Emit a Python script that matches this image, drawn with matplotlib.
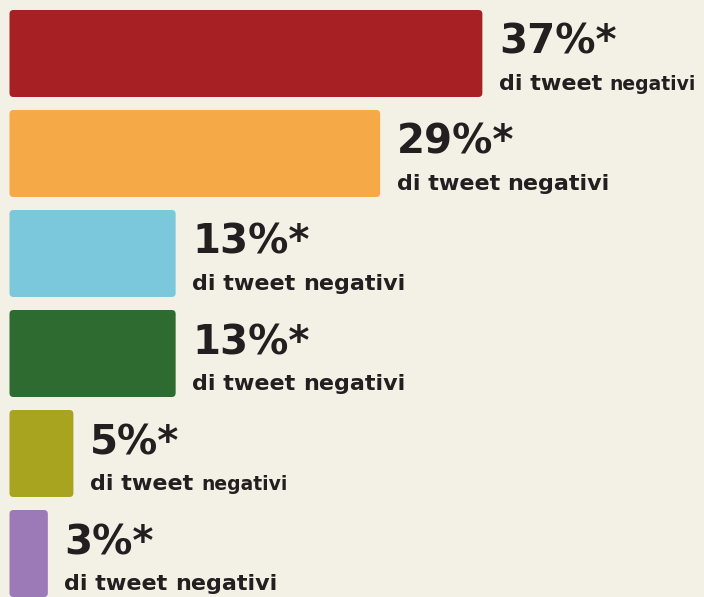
import matplotlib
matplotlib.use("Agg")
import matplotlib.pyplot as plt
from matplotlib.patches import FancyBboxPatch

values = [37, 29, 13, 13, 5, 3]
labels = ["37%*", "29%*", "13%*", "13%*", "5%*", "3%*"]
sub_main = ["di tweet ", "di tweet ", "di tweet ", "di tweet ", "di tweet ", "di tweet "]
sub_tail = ["negativi"] * 6
small_tail = [True, False, False, False, True, False]
colors = ["#A62024", "#F5A947", "#7BC8DC", "#2E6B30", "#A9A41F", "#9C7AB7"]

BG = "#F3F0E5"
TXT = "#231F20"
W, H = 704, 597
pxu = 12.78  # pixels per percentage point

fig = plt.figure(figsize=(W / 100, H / 100), dpi=100, facecolor=BG)
ax = fig.add_axes([0, 0, 1, 1])
ax.set_facecolor(BG)
ax.set_xlim(-9.5 / pxu, (W - 9.5) / pxu)
ax.set_ylim((H - 53.5) / 100, -53.5 / 100)
ax.axis("off")

ypos = list(range(len(values)))
bars = ax.barh(ypos, values, height=0.87, color=colors)
for rect, c in zip(bars, colors):
    x, y = rect.get_x(), rect.get_y()
    w, h = rect.get_width(), rect.get_height()
    rect.set_visible(False)
    r = 4 / pxu
    p = FancyBboxPatch((x, y), w, h, boxstyle=f"round,pad=0,rounding_size={r}",
                       mutation_aspect=pxu / 100, facecolor=c, edgecolor="none")
    ax.add_patch(p)

fam = "DejaVu Sans"
fig.canvas.draw()
renderer = fig.canvas.get_renderer()
inv = ax.transData.inverted()
for i, (v, lab) in enumerate(zip(values, labels)):
    xl = v + 16.5 / pxu
    top = i - 0.435
    ax.text(xl, top + 0.44, lab, fontsize=29, fontweight="bold", color=TXT,
            family=fam, ha="left", va="baseline")
    t1 = ax.text(xl, top + 0.80, sub_main[i], fontsize=16, fontweight="bold",
                 color=TXT, family=fam, ha="left", va="baseline")
    bb = t1.get_window_extent(renderer)
    xr = inv.transform((bb.x1, bb.y0))[0]
    ax.text(xr, top + 0.80, sub_tail[i], fontsize=13.5 if small_tail[i] else 16,
            fontweight="bold", color=TXT, family=fam, ha="left", va="baseline")

fig.savefig("out.png", dpi=100, facecolor=BG)
